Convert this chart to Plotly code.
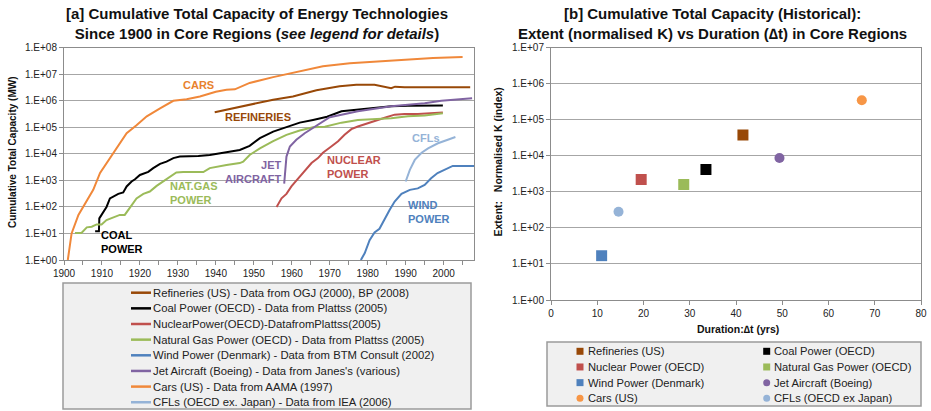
import plotly.graph_objects as go

W, H = 931, 411

# ---------------- Panel [a] data (year, MW) ----------------
cars_year = [1901, 1902, 1903.8, 1906, 1907.7, 1909.5, 1911.2, 1913, 1914.7, 1916.5, 1919.1, 1921.8,
             1925.3, 1928.8, 1932.3, 1935.8, 1940, 1942.8, 1945, 1948.9, 1955.1, 1962.1, 1968.2,
             1975.3, 1982.3, 1988.4, 1997.2, 2005]
cars_mw = [1, 10, 50, 180, 440, 1900, 4500, 11000, 25000, 60000, 120000, 260000,
           520000, 1.0e6, 1.15e6, 1.45e6, 2.2e6, 2.6e6, 2.7e6, 4.7e6, 7.8e6, 1.3e7, 2.0e7,
           2.6e7, 3.0e7, 3.5e7, 4.1e7, 4.5e7]

ref_year = [1939.7, 1944.6, 1948.9, 1955.1, 1960.3, 1966.5, 1972.6, 1977, 1981.8, 1983.8, 1986.2,
            1987.2, 1989.7, 1995, 2007]
ref_mw = [3.7e5, 5.2e5, 7.1e5, 1.1e6, 1.45e6, 2.5e6, 3.5e6, 4.0e6, 4.0e6, 3.5e6, 3.0e6,
          3.4e6, 3.2e6, 3.2e6, 3.2e6]

coal_year = [1908.2, 1909.2, 1909.3, 1909.9, 1911.2, 1912.1, 1913, 1914.3, 1915.6, 1916.5, 1917.8,
             1918.7, 1920, 1921.3, 1922.2, 1923.5, 1925.3, 1927, 1928.8, 1930.5, 1933.2, 1935.4,
             1938.4, 1941.9, 1946.3, 1948.9, 1951.6, 1955.1, 1958.6, 1962.1, 1965.6, 1969.3,
             1973.1, 1977.4, 1981.8, 1986.2, 1990.6, 1995, 1999.8]
coal_mw = [12, 12, 37, 50, 100, 210, 245, 310, 350, 590, 910,
           1100, 1600, 1900, 2100, 2900, 4200, 5100, 6900, 7900, 7900, 8300,
           9100, 11000, 14000, 20000, 39000, 69000, 1.0e5, 1.5e5, 1.9e5, 2.5e5,
           4.0e5, 4.6e5, 5.2e5, 6.2e5, 6.5e5, 6.6e5, 6.6e5]

gas_year = [1902.9, 1904.6, 1906, 1907.3, 1908.6, 1909.9, 1911.2, 1913, 1914.7, 1916, 1917.4,
            1919.1, 1920.9, 1922.6, 1924.4, 1926.1, 1927.9, 1929.6, 1931.4, 1936.7, 1938.4,
            1940.2, 1942.8, 1946.3, 1947.2, 1948.9, 1951.6, 1955.1, 1958.6, 1962.1, 1965.6,
            1968.7, 1973.1, 1977.4, 1981.8, 1986.2, 1990.6, 1995, 1999.8]
gas_mw = [10.5, 10.5, 17, 18, 22, 22, 32, 40, 50, 50, 100,
          210, 310, 380, 620, 910, 1400, 2000, 2050, 2050, 2900,
          3300, 3800, 4500, 5100, 9100, 16000, 30000, 52000, 76000, 1.0e5,
          1.05e5, 1.5e5, 1.9e5, 2.1e5, 2.2e5, 2.6e5, 2.8e5, 3.4e5]

nuc_year = [1956, 1957.3, 1958.6, 1959.9, 1961.2, 1962.5, 1963.9, 1965.2, 1966.9, 1968.2, 1970.4,
            1972.2, 1973.9, 1975.7, 1977.4, 1980, 1982.7, 1984.9, 1987.1, 1989.7, 1993.2,
            1996.7, 1999.8]
nuc_mw = [100, 210, 310, 590, 980, 1600, 2900, 4500, 6900, 11000, 19000,
          30000, 52000, 85000, 1.07e5, 1.45e5, 1.9e5, 2.4e5, 3.0e5, 3.2e5, 3.2e5,
          3.4e5, 3.6e5]

jet_year = [1958, 1958.6, 1959.5, 1961.2, 1963.4, 1965.6, 1968.2, 1970, 1973.1, 1977.4, 1981.8,
            1986.2, 1990.6, 1995, 1999.4, 2003.8, 2007.5]
jet_mw = [750, 7900, 19000, 34000, 60000, 93000, 1.66e5, 2.4e5, 3.0e5, 4.0e5, 5.0e5,
          6.2e5, 7.1e5, 8.1e5, 1.0e6, 1.15e6, 1.25e6]

wind_year = [1978.2, 1979.2, 1980.5, 1981.8, 1983.1, 1984.5, 1985.8, 1987.1, 1988.9, 1991.1,
             1993.2, 1995, 1996.7, 1998.4, 2000.3, 2002.4, 2004.6, 2008]
wind_mw = [1, 1.8, 5.6, 11, 15, 37, 78, 160, 310, 440,
           500, 680, 1200, 1900, 2600, 3500, 3500, 3500]

cfl_year = [1990, 1991.1, 1992.4, 1994.2, 1995.9, 1998.5, 2001.1, 2003.1]
cfl_mw = [910, 2500, 5900, 11000, 16000, 25000, 34000, 43000]

# legend names (panel a)
legend_a = [
    "Refineries (US) - Data from OGJ (2000), BP (2008)",
    "Coal Power (OECD) - Data from Plattss (2005)",
    "NuclearPower(OECD)-DatafromPlattss(2005)",
    "Natural Gas Power (OECD) - Data from Plattss (2005)",
    "Wind Power (Denmark) - Data from BTM Consult (2002)",
    "Jet Aircraft (Boeing) - Data from Janes's (various)",
    "Cars (US) - Data from AAMA (1997)",
    "CFLs (OECD ex. Japan) - Data from IEA (2006)",
]

# ---------------- Panel [b] data ----------------
b_names = ["Refineries (US)", "Coal Power (OECD)", "Nuclear Power (OECD)", "Natural Gas Power (OECD)",
           "Wind Power (Denmark)", "Jet Aircraft (Boeing)", "Cars (US)", "CFLs (OECD ex Japan)"]
b_duration = [41.5, 33.5, 19.5, 28.7, 10.95, 49.4, 67.2, 14.6]
b_extent = [3.8e4, 4200, 2200, 1600, 17, 8700, 3.5e5, 280]
b_symbols = ["square", "square", "square", "square", "square", "circle", "circle", "circle"]

# tick labels
ytick_a_vals = [1, 10, 100, 1e3, 1e4, 1e5, 1e6, 1e7, 1e8]
ytick_a_text = ["1.E+00", "1.E+01", "1.E+02", "1.E+03", "1.E+04", "1.E+05", "1.E+06", "1.E+07", "1.E+08"]
ytick_b_vals = [1, 10, 100, 1e3, 1e4, 1e5, 1e6, 1e7]
ytick_b_text = ["1.E+00", "1.E+01", "1.E+02", "1.E+03", "1.E+04", "1.E+05", "1.E+06", "1.E+07"]

# colours (same order as legend_a / b_names)
colors = ["#984807", "#000000", "#C0504D", "#9BBB59", "#4F81BD", "#8064A2", "#F0883A", "#95B3D7"]
b_colors = ["#984807", "#000000", "#C0504D", "#9BBB59", "#4F81BD", "#8064A2", "#F79646", "#95B3D7"]

FONT = "Liberation Sans, Arial, Helvetica, sans-serif"

series_a = [(ref_year, ref_mw), (coal_year, coal_mw), (nuc_year, nuc_mw), (gas_year, gas_mw),
            (wind_year, wind_mw), (jet_year, jet_mw), (cars_year, cars_mw), (cfl_year, cfl_mw)]

fig = go.Figure()
for (xs, ys), name, c in zip(series_a, legend_a, colors):
    fig.add_trace(go.Scatter(x=xs, y=ys, mode="lines", name=name, line=dict(color=c, width=2),
                             xaxis="x", yaxis="y", showlegend=False))

for i in range(len(b_names)):
    fig.add_trace(go.Scatter(x=[b_duration[i]], y=[b_extent[i]], mode="markers", name=b_names[i],
                             marker=dict(symbol=b_symbols[i], size=11 if b_symbols[i] == "square" else 10,
                                         color=b_colors[i], line=dict(width=0)),
                             xaxis="x2", yaxis="y2", showlegend=False))


def px(x):
    return x / W


def py(y):
    return 1 - y / H


axis_common = dict(showline=True, linecolor="#8c8c8c", linewidth=1, mirror=True,
                   ticks="outside", ticklen=4, tickcolor="#8c8c8c",
                   tickfont=dict(family=FONT, size=10, color="#222"), automargin=False, zeroline=False)

fig.update_layout(
    width=W, height=H, margin=dict(l=0, r=0, t=0, b=0),
    paper_bgcolor="white", plot_bgcolor="white",
    font=dict(family=FONT, color="#222"),
    xaxis=dict(domain=[px(64), px(474)], range=[1900, 2008], dtick=10, tick0=1900,
               showgrid=False, minor=dict(dtick=5, tick0=1900, ticks="outside", ticklen=4,
                                          tickcolor="#8c8c8c"),
               anchor="y", **axis_common),
    yaxis=dict(domain=[py(260), py(47.7)], type="log", range=[0, 8], tickvals=ytick_a_vals,
               ticktext=ytick_a_text, showgrid=True, gridcolor="#a6a6a6", gridwidth=1,
               anchor="x", **axis_common),
    xaxis2=dict(domain=[px(551), px(921)], range=[0, 80], dtick=10, showgrid=False,
                anchor="y2", **axis_common),
    yaxis2=dict(domain=[py(300), py(47.7)], type="log", range=[0, 7], tickvals=ytick_b_vals,
                ticktext=ytick_b_text, showgrid=True, gridcolor="#a6a6a6", gridwidth=1,
                anchor="x2", **axis_common),
)

ann = []
shapes = []

# Titles
ann.append(dict(text="<b>[a] Cumulative Total Capacity of Energy Technologies<br>"
                     "Since 1900 in Core Regions (<i>see legend for details</i>)</b>",
                x=px(257), y=py(23.5), xref="paper", yref="paper", showarrow=False,
                xanchor="center", yanchor="middle", font=dict(family=FONT, size=15, color="#111")))
ann.append(dict(text="<b>[b] Cumulative Total Capacity (Historical):<br>"
                     "Extent (normalised K) vs Duration (\u2206t) in Core Regions</b>",
                x=px(712), y=py(23.5), xref="paper", yref="paper", showarrow=False,
                xanchor="center", yanchor="middle", font=dict(family=FONT, size=15, color="#111")))

# Axis titles
ann.append(dict(text="<b>Cumulative Total Capacity (MW)</b>", textangle=-90, x=px(12), y=py(152),
                xref="paper", yref="paper", showarrow=False, xanchor="center", yanchor="middle",
                font=dict(family=FONT, size=10, color="#111")))
ann.append(dict(text="<b>Extent:\u00a0\u00a0\u00a0Normalised K (index)</b>", textangle=-90, x=px(497),
                y=py(162.5), xref="paper", yref="paper", showarrow=False, xanchor="center",
                yanchor="middle", font=dict(family=FONT, size=10.5, color="#111")))
ann.append(dict(text="<b>Duration:\u2206t (yrs)</b>", x=px(738), y=py(329), xref="paper", yref="paper",
                showarrow=False, xanchor="center", yanchor="middle",
                font=dict(family=FONT, size=10.5, color="#111")))

# In-chart series labels (data coords: year, log10 value)
labels = [
    ("CARS", 1935.5, 6.6, "#E8822E", "center"),
    ("REFINERIES", 1951, 5.4, "#984807", "center"),
    ("COAL<br>POWER", 1915.3, 0.69, "#000000", "left"),
    ("NAT.GAS<br>POWER", 1934.2, 2.54, "#9BBB59", "left"),
    ("JET<br>AIRCRAFT", 1949.7, 3.32, "#8064A2", "right"),
    ("NUCLEAR<br>POWER", 1976.3, 3.52, "#C0504D", "left"),
    ("CFLs", 1995.4, 4.59, "#95B3D7", "center"),
    ("WIND<br>POWER", 1996.1, 1.81, "#4F81BD", "left"),
]
for t, xv, yv, c, al in labels:
    ann.append(dict(text="<b>" + t + "</b>", x=xv, y=yv, xref="x", yref="y", showarrow=False,
                    xanchor="center", yanchor="middle", align=al,
                    font=dict(family=FONT, size=11, color=c)))

# Legend box (panel a)
shapes.append(dict(type="rect", xref="paper", yref="paper", x0=px(63), x1=px(471), y0=py(409), y1=py(283),
                   fillcolor="#f0f0f0", line=dict(color="#9a9a9a", width=1.5), layer="below"))
for i, (name, c) in enumerate(zip(legend_a, colors)):
    yy = 292.7 + i * 15.65
    shapes.append(dict(type="line", xref="paper", yref="paper", x0=px(131), x1=px(151), y0=py(yy), y1=py(yy),
                       line=dict(color=c, width=2.5)))
    ann.append(dict(text=name, x=px(151), y=py(yy), xref="paper", yref="paper", showarrow=False,
                    xanchor="left", yanchor="middle", font=dict(family=FONT, size=11.3, color="#222")))

# Legend box (panel b)
shapes.append(dict(type="rect", xref="paper", yref="paper", x0=px(547), x1=px(921), y0=py(406), y1=py(342),
                   fillcolor="#f0f0f0", line=dict(color="#9a9a9a", width=1.5), layer="below"))
for i, (name, c, sym) in enumerate(zip(b_names, b_colors, b_symbols)):
    row, col = divmod(i, 2)
    yy = 351.3 + row * 15.67
    mx = 580 if col == 0 else 766.7
    shapes.append(dict(type="rect" if sym == "square" else "circle", xref="paper", yref="paper",
                       x0=px(mx - 3.5), x1=px(mx + 3.5), y0=py(yy + 3.5), y1=py(yy - 3.5),
                       fillcolor=c, line=dict(width=0)))
    ann.append(dict(text=name, x=px(mx + 5.5), y=py(yy), xref="paper", yref="paper", showarrow=False,
                    xanchor="left", yanchor="middle", font=dict(family=FONT, size=11.2, color="#222")))

fig.update_layout(annotations=ann, shapes=shapes)
fig.write_html("out.html", config={"displayModeBar": False},
               post_script="document.body.style.margin='0px';document.body.style.padding='0px';")
